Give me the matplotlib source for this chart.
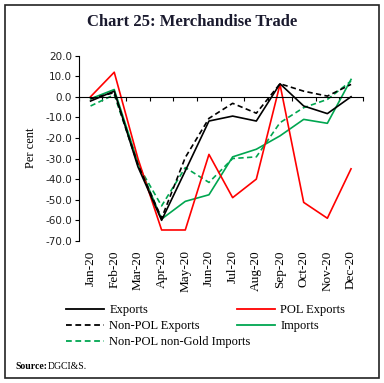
import numpy as np
import matplotlib
matplotlib.use("Agg")
import matplotlib.pyplot as plt
import matplotlib.transforms as mtransforms
from matplotlib.lines import Line2D
from matplotlib.patches import Rectangle

# data (per cent, y-o-y)
months = ['Jan-20', 'Feb-20', 'Mar-20', 'Apr-20', 'May-20', 'Jun-20',
          'Jul-20', 'Aug-20', 'Sep-20', 'Oct-20', 'Nov-20', 'Dec-20']
exports = [-2.1, 2.7, -34.0, -60.0, -36.0, -11.8, -9.4, -11.8, 6.3, -4.5, -8.2, 0.0]
pol_exports = [0.0, 11.9, -30.0, -64.7, -64.7, -28.0, -49.0, -40.0, 6.0, -51.3, -59.0, -35.0]
nonpol_exports = [-1.0, 2.0, -33.0, -59.0, -29.5, -10.5, -3.2, -8.0, 6.3, 2.7, 0.3, 6.0]
imports = [-1.0, 3.5, -32.0, -59.4, -50.8, -47.6, -29.2, -25.5, -19.0, -11.0, -12.9, 8.4]
nonpol_nongold_imports = [-4.5, 1.0, -33.0, -53.0, -34.4, -41.6, -30.0, -29.2, -12.6, -5.3, -1.3, 7.6]

GREEN = '#00a650'
SERIF = 'Liberation Serif'

fig = plt.figure(figsize=(3.84, 3.83), dpi=100)
# outer frame
fig.patches.append(Rectangle((0.013, 0.013), 0.974, 0.974, transform=fig.transFigure,
                             fill=False, edgecolor='#222222', linewidth=1.2))

fig.text(0.5, 0.943, 'Chart 25: Merchandise Trade', ha='center', va='center',
         fontsize=12, fontweight='bold', family=SERIF, color='#1a1a2e')

ax = fig.add_axes([0.205, 0.371, 0.74, 0.484])
x = np.arange(len(months))
dash = (0, (3.2, 2.0))
ax.plot(x, nonpol_nongold_imports, color=GREEN, lw=1.2, linestyle=dash)
ax.plot(x, imports, color=GREEN, lw=1.2)
ax.plot(x, pol_exports, color='#ff0000', lw=1.2)
ax.plot(x, nonpol_exports, color='black', lw=1.2, linestyle=dash)
ax.plot(x, exports, color='black', lw=1.2)

ax.set_xlim(-0.5, 11.5)
ax.set_ylim(-70, 20)
ax.set_yticks(np.arange(-70, 21, 10))
ax.set_yticklabels(['%.1f' % v for v in np.arange(-70, 21, 10)], fontsize=7.5, color='#222222')
ax.tick_params(axis='y', direction='out', length=3, width=0.8, pad=2)

for s in ['top', 'right']:
    ax.spines[s].set_visible(False)
ax.spines['bottom'].set_position(('data', 0))
ax.spines['left'].set_linewidth(0.8)
ax.spines['bottom'].set_linewidth(0.8)
ax.set_xticks(np.arange(-0.5, 12.0, 1.0))
ax.set_xticklabels([])
ax.tick_params(axis='x', direction='out', length=3, width=0.8)

trans = mtransforms.blended_transform_factory(ax.transData, ax.transAxes)
for i, m in enumerate(months):
    ax.text(i, -0.05, m, transform=trans, rotation=90, ha='center', va='top',
            fontsize=9.5, family=SERIF)

ax.set_ylabel('Per cent', family=SERIF, fontsize=9, labelpad=6)

h_exp = Line2D([], [], color='black', lw=1.3)
h_pol = Line2D([], [], color='#ff0000', lw=1.3)
h_npe = Line2D([], [], color='black', lw=1.3, linestyle=dash)
h_imp = Line2D([], [], color=GREEN, lw=1.3)
h_npi = Line2D([], [], color=GREEN, lw=1.3, linestyle=dash)
leg_kw = dict(loc='upper left', bbox_transform=fig.transFigure, frameon=False,
              prop={'family': SERIF, 'size': 9}, handlelength=3.0,
              handletextpad=0.45, labelspacing=0.3, borderaxespad=0, borderpad=0)
leg1 = fig.legend([h_exp, h_npe, h_npi],
                  ['Exports', 'Non-POL Exports', 'Non-POL non-Gold Imports'],
                  bbox_to_anchor=(0.172, 0.205), **leg_kw)
leg2 = fig.legend([h_pol, h_imp], ['POL Exports', 'Imports'],
                  bbox_to_anchor=(0.618, 0.205), **leg_kw)

fig.text(0.04, 0.044, 'Source:', fontsize=7, fontweight='bold', family=SERIF, va='center')
fig.text(0.123, 0.044, 'DGCI&S.', fontsize=7, family=SERIF, va='center')

fig.savefig('out.png', dpi=100)
